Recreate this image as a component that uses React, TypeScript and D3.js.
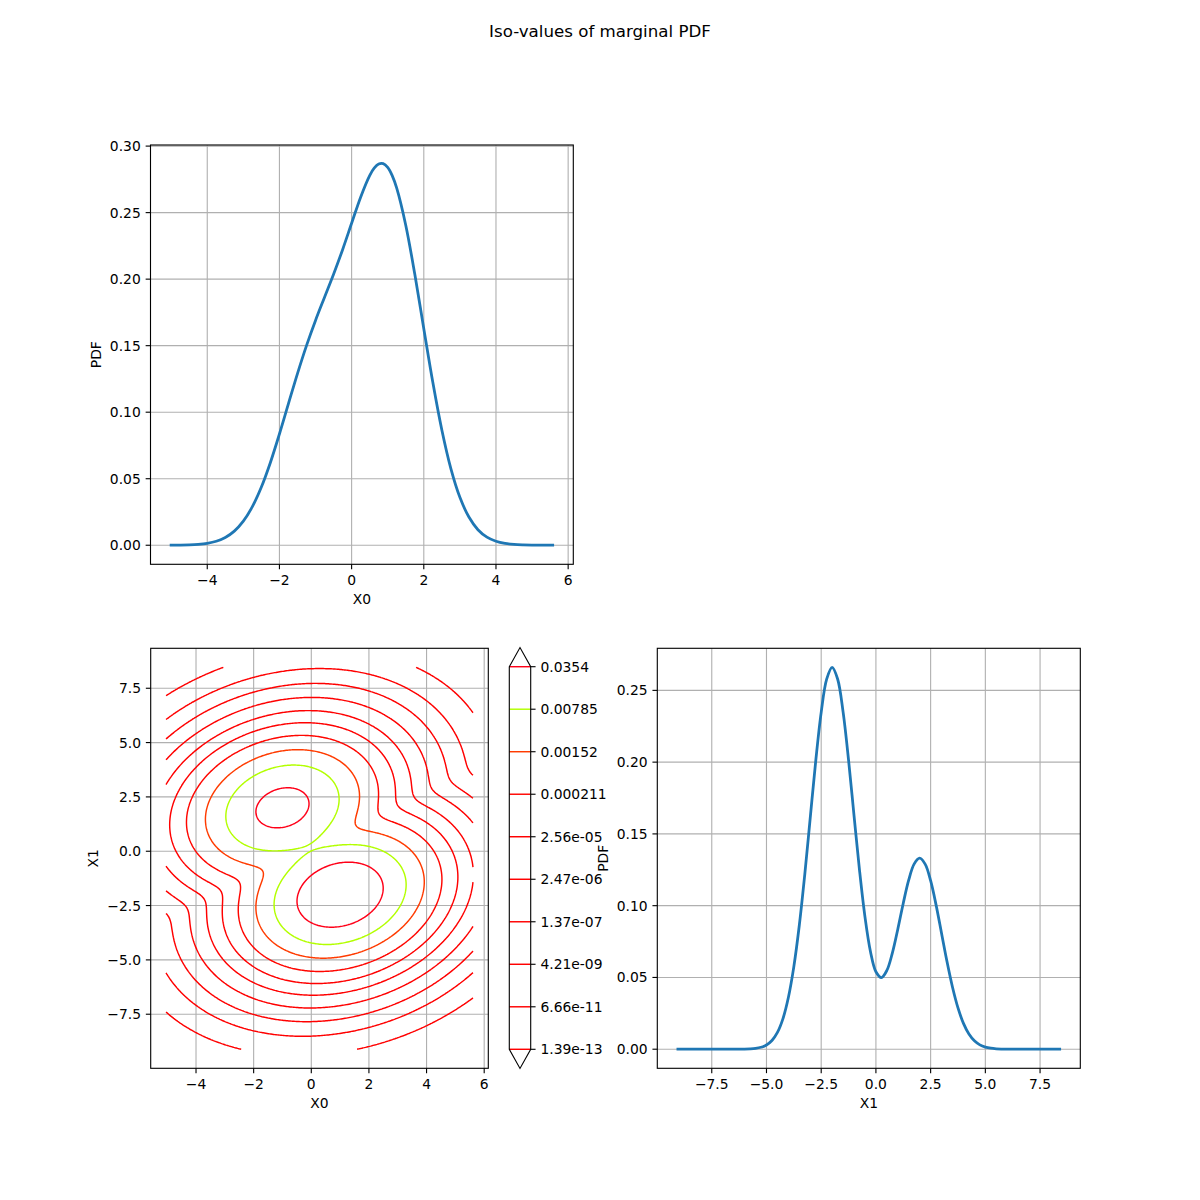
import React, { useMemo } from 'react';
import * as d3 from 'd3';

// ---------- data ----------
const TITLE = 'Iso-values of marginal PDF';
const X0_RANGE = [-5.04, 5.61];
const X1_RANGE = [-9.11, 8.46];

const X0_VALUES = [-5.04, -4.75, -4.5, -4.25, -4, -3.75, -3.5, -3.25, -3, -2.75, -2.5, -2.25, -2, -1.75, -1.5, -1.25, -1, -0.75, -0.5, -0.25, 0, 0.25, 0.5, 0.625, 0.75, 0.875, 1, 1.125, 1.25, 1.5, 1.75, 2, 2.25, 2.5, 2.75, 3, 3.25, 3.5, 3.75, 4, 4.25, 4.5, 4.75, 5, 5.25, 5.5, 5.61];
const X0_PDF = [0.00004, 0.00012, 0.00029, 0.00068, 0.00148, 0.00303, 0.00585, 0.01061, 0.01809, 0.02899, 0.04375, 0.06224, 0.08361, 0.10644, 0.12904, 0.15005, 0.16898, 0.18641, 0.2037, 0.22215, 0.24197, 0.26164, 0.27788, 0.28342, 0.28654, 0.28682, 0.28396, 0.2778, 0.26836, 0.24055, 0.20379, 0.16279, 0.12244, 0.08664, 0.05764, 0.03604, 0.02118, 0.01169, 0.00606, 0.00296, 0.00135, 0.00058, 0.00024, 0.00009, 0.00003, 0.00001, 0.00001];

const X1_VALUES = [-9.11, -8, -7, -6.5, -6, -5.75, -5.5, -5.25, -5, -4.75, -4.5, -4.25, -4, -3.75, -3.5, -3.25, -3, -2.75, -2.5, -2.25, -2, -1.75, -1.5, -1.25, -1, -0.75, -0.5, -0.25, 0, 0.25, 0.5, 0.75, 1, 1.25, 1.5, 1.75, 2, 2.25, 2.5, 2.75, 3, 3.25, 3.5, 3.75, 4, 4.25, 4.5, 4.75, 5, 5.25, 5.5, 5.75, 6, 6.5, 7, 8, 8.46];
const X1_PDF = [0, 0, 0.000001, 0.00001, 0.00009, 0.00024, 0.00058, 0.00135, 0.00296, 0.00606, 0.01169, 0.02116, 0.03599, 0.05752, 0.08635, 0.12177, 0.16131, 0.20076, 0.23471, 0.25778, 0.26601, 0.2579, 0.235, 0.20143, 0.16279, 0.1248, 0.09219, 0.0681, 0.05399, 0.04992, 0.05486, 0.06695, 0.08361, 0.10173, 0.11794, 0.12912, 0.13307, 0.12892, 0.11737, 0.10038, 0.08066, 0.06088, 0.04317, 0.02876, 0.018, 0.01058, 0.00584, 0.00303, 0.00148, 0.00068, 0.00029, 0.00012, 0.00004, 0.00001, 0, 0, 0];

// bivariate mixture (two normal components) behind the iso-lines
const MIX_WEIGHTS = [0.33333, 0.66667];
const MIX_MEAN_X0 = [-1, 1];
const MIX_MEAN_X1 = [2, -2];
const MIX_STD_X0 = [1, 1];
const MIX_STD_X1 = [1, 1];
const MIX_CORR = [0.2, 0.2];

const LEVELS = [1.39e-13, 6.66e-11, 4.21e-9, 1.37e-7, 2.47e-6, 2.56e-5, 0.000211, 0.00152, 0.00785, 0.0354];
const LEVEL_LABELS = ['1.39e-13', '6.66e-11', '4.21e-09', '1.37e-07', '2.47e-06', '2.56e-05', '0.000211', '0.00152', '0.00785', '0.0354'];

const TL_X_TICKS = [-4, -2, 0, 2, 4, 6];
const TL_Y_TICKS = [0, 0.05, 0.1, 0.15, 0.2, 0.25, 0.3];
const BL_X_TICKS = [-4, -2, 0, 2, 4, 6];
const BL_Y_TICKS = [-7.5, -5, -2.5, 0, 2.5, 5, 7.5];
const BR_X_TICKS = [-7.5, -5, -2.5, 0, 2.5, 5, 7.5];
const BR_Y_TICKS = [0, 0.05, 0.1, 0.15, 0.2, 0.25];

// ---------- style ----------
const FONT = 'DejaVu Sans, sans-serif';
const FS = 13.89;
const TICK = 4.86;
const PAD = 4.86;
const GRID = '#b0b0b0';
const BLUE = '#1f77b4';
const CONTOUR_W = 1.45;

// matplotlib "hsv" colormap segments
const HSV_STOPS = [0, 0.15873, 0.174603, 0.333333, 0.349206, 0.507937, 0.666667, 0.68254, 0.84127, 0.857143, 1];
const HSV_COLORS = [
  [1, 0, 0], [1, 0.9375, 0], [0.96875, 1, 0], [0.03125, 1, 0], [0, 1, 0.0625], [0, 1, 1],
  [0, 0.0625, 1], [0.03125, 0, 1], [0.96875, 0, 1], [1, 0, 0.9375], [1, 0, 0.09375],
].map(c => d3.rgb(c[0] * 255, c[1] * 255, c[2] * 255).formatHex());
const hsvScale = d3.scaleLinear<string>().domain(HSV_STOPS).range(HSV_COLORS).interpolate(d3.interpolateRgb);
function levelColor(v: number) {
  const lo = d3.min(LEVELS)!, hi = d3.max(LEVELS)!;
  const t = (v - lo) / (hi - lo);
  const idx = Math.min(255, Math.floor(t * 256));
  return hsvScale(idx / 255);
}

type AxProps = {
  left: number; right: number; top: number; bottom: number;
  xScale: d3.ScaleLinear<number, number>; yScale: d3.ScaleLinear<number, number>;
  xTicks: number[]; yTicks: number[]; xFmt: (v: number) => string; yFmt: (v: number) => string;
  xLabel: string; yLabel: string; yLabelX: number; children?: React.ReactNode;
};

function Axes(p: AxProps) {
  const { left, right, top, bottom, xScale, yScale } = p;
  return (
    <g>
      {p.xTicks.map(t => (
        <line key={'gx' + t} x1={xScale(t)} x2={xScale(t)} y1={top} y2={bottom} stroke={GRID} strokeWidth={1.11} />
      ))}
      {p.yTicks.map(t => (
        <line key={'gy' + t} x1={left} x2={right} y1={yScale(t)} y2={yScale(t)} stroke={GRID} strokeWidth={1.11} />
      ))}
      {p.children}
      <rect x={left} y={top} width={right - left} height={bottom - top} fill="none" stroke="#000" strokeWidth={1.11} />
      {p.xTicks.map(t => (
        <g key={'tx' + t}>
          <line x1={xScale(t)} x2={xScale(t)} y1={bottom} y2={bottom + TICK} stroke="#000" strokeWidth={1.11} />
          <text x={xScale(t)} y={bottom + TICK + PAD + 10.6} textAnchor="middle" fontFamily={FONT} fontSize={FS}>{p.xFmt(t)}</text>
        </g>
      ))}
      {p.yTicks.map(t => (
        <g key={'ty' + t}>
          <line x1={left - TICK} x2={left} y1={yScale(t)} y2={yScale(t)} stroke="#000" strokeWidth={1.11} />
          <text x={left - TICK - PAD} y={yScale(t) + 5.05} textAnchor="end" fontFamily={FONT} fontSize={FS}>{p.yFmt(t)}</text>
        </g>
      ))}
      <text x={(left + right) / 2} y={bottom + 39.8} textAnchor="middle" fontFamily={FONT} fontSize={FS}>{p.xLabel}</text>
      <text x={p.yLabelX} y={(top + bottom) / 2} textAnchor="middle" fontFamily={FONT} fontSize={FS}
        transform={`rotate(-90 ${p.yLabelX} ${(top + bottom) / 2})`}>{p.yLabel}</text>
    </g>
  );
}

function padded(r: number[]) {
  const d = r[1] - r[0];
  return [r[0] - 0.05 * d, r[1] + 0.05 * d];
}

export default function App() {
  // layout
  const TL = { left: 150.5, right: 573.3, top: 145, bottom: 564.3 };
  const BL = { left: 150.7, right: 488.3, top: 648.3, bottom: 1068.3 };
  const BR = { left: 657.3, right: 1080.3, top: 648.3, bottom: 1068.3 };
  const CB = { left: 509.3, right: 530.7, top: 666.7, bottom: 1049.3, ext: 19.1 };

  const x0Dom = padded(X0_RANGE);
  const x1Dom = padded(X1_RANGE);
  const max0 = 0.2865;
  const max1 = d3.max(X1_PDF)!;

  const tlX = d3.scaleLinear().domain(x0Dom).range([TL.left, TL.right]);
  const tlY = d3.scaleLinear().domain([-0.05 * max0, 1.05 * max0]).range([TL.bottom, TL.top]);
  const blX = d3.scaleLinear().domain(x0Dom).range([BL.left, BL.right]);
  const blY = d3.scaleLinear().domain(x1Dom).range([BL.bottom, BL.top]);
  const brX = d3.scaleLinear().domain(x1Dom).range([BR.left, BR.right]);
  const brY = d3.scaleLinear().domain([-0.05 * max1, 1.05 * max1]).range([BR.bottom, BR.top]);

  const fmtInt = d3.format('d');
  const fmt1 = d3.format('.1f');
  const fmt2 = d3.format('.2f');

  const line0 = d3.line<number>().x((_, i) => tlX(X0_VALUES[i])).y(v => tlY(v)).curve(d3.curveCatmullRom.alpha(0.5));
  const line1 = d3.line<number>().x((_, i) => brX(X1_VALUES[i])).y(v => brY(v)).curve(d3.curveCatmullRom.alpha(0.5));

  const contourPaths = useMemo(() => {
    const nx = 241, ny = 301;
    const sx = (X0_RANGE[1] - X0_RANGE[0]) / (nx - 1);
    const sy = (X1_RANGE[1] - X1_RANGE[0]) / (ny - 1);
    const values = new Array(nx * ny);
    for (let j = 0; j < ny; j++) {
      const y = X1_RANGE[0] + j * sy;
      for (let i = 0; i < nx; i++) {
        const x = X0_RANGE[0] + i * sx;
        let s = 0;
        for (let k = 0; k < MIX_WEIGHTS.length; k++) {
          const zx = (x - MIX_MEAN_X0[k]) / MIX_STD_X0[k];
          const zy = (y - MIX_MEAN_X1[k]) / MIX_STD_X1[k];
          const r = MIX_CORR[k];
          const q = (zx * zx - 2 * r * zx * zy + zy * zy) / (1 - r * r);
          s += MIX_WEIGHTS[k] / (2 * Math.PI * MIX_STD_X0[k] * MIX_STD_X1[k] * Math.sqrt(1 - r * r)) * Math.exp(-q / 2);
        }
        values[j * nx + i] = s;
      }
    }
    const gen = d3.contours().size([nx, ny]);
    const toPx = (p: number[]): [number, number] => [
      blX(X0_RANGE[0] + (p[0] - 0.5) * sx),
      blY(X1_RANGE[0] + (p[1] - 0.5) * sy),
    ];
    const onB = (p: number[]) => p[0] < 0.25 || p[0] > nx - 0.25 || p[1] < 0.25 || p[1] > ny - 0.25;
    const lineGen = d3.line();
    const out: { d: string; color: string; key: string }[] = [];
    LEVELS.forEach((lv, li) => {
      const mp = gen.contour(values, lv);
      const color = levelColor(lv);
      let n = 0;
      mp.coordinates.forEach(poly => poly.forEach(ring => {
        const pts = ring.slice(0, ring.length - 1);
        const k = pts.findIndex(onB);
        if (k < 0) {
          out.push({ d: lineGen(pts.map(toPx))! + 'Z', color, key: `${li}-${n++}` });
          return;
        }
        const rot = pts.slice(k).concat(pts.slice(0, k));
        let run: number[][] = [];
        const flush = () => {
          if (run.length > 1) out.push({ d: lineGen(run.map(toPx))!, color, key: `${li}-${n++}` });
          run = [];
        };
        rot.forEach(p => { if (onB(p)) flush(); else run.push(p); });
        flush();
      }));
    });
    return out;
  }, []);

  const cbY = d3.scalePoint<number>().domain(d3.range(LEVELS.length)).range([CB.bottom, CB.top]);
  const cbMid = (CB.left + CB.right) / 2;
  const cbOutline = [
    [CB.left, CB.top], [cbMid, CB.top - CB.ext], [CB.right, CB.top], [CB.right, CB.bottom],
    [cbMid, CB.bottom + CB.ext], [CB.left, CB.bottom],
  ].map(p => p.join(',')).join(' ');

  return (
    <svg width={1200} height={1200} style={{ position: 'absolute', left: 0, top: 0, background: '#fff' }}>
      <rect x={0} y={0} width={1200} height={1200} fill="#fff" />
      <text x={600} y={37.3} textAnchor="middle" fontFamily={FONT} fontSize={16.67}>{TITLE}</text>

      <Axes {...TL} xScale={tlX} yScale={tlY} xTicks={TL_X_TICKS} yTicks={TL_Y_TICKS} xFmt={fmtInt} yFmt={fmt2}
        xLabel="X0" yLabel="PDF" yLabelX={101.1}>
        <path d={line0(X0_PDF)!} fill="none" stroke={BLUE} strokeWidth={2.78} strokeLinejoin="round" />
      </Axes>

      <Axes {...BL} xScale={blX} yScale={blY} xTicks={BL_X_TICKS} yTicks={BL_Y_TICKS} xFmt={fmtInt} yFmt={fmt1}
        xLabel="X0" yLabel="X1" yLabelX={98.4}>
        {contourPaths.map(c => (
          <path key={c.key} d={c.d} fill="none" stroke={c.color} strokeWidth={CONTOUR_W} strokeLinejoin="round" />
        ))}
      </Axes>

      <g>
        <polygon points={cbOutline} fill="#fff" stroke="none" />
        {LEVELS.map((lv, i) => (
          <line key={'cbl' + i} x1={CB.left} x2={CB.right} y1={cbY(i)!} y2={cbY(i)!} stroke={levelColor(lv)} strokeWidth={CONTOUR_W} />
        ))}
        <polygon points={cbOutline} fill="none" stroke="#000" strokeWidth={1.11} />
        {LEVELS.map((lv, i) => (
          <g key={'cbt' + i}>
            <line x1={CB.right} x2={CB.right + TICK} y1={cbY(i)!} y2={cbY(i)!} stroke="#000" strokeWidth={1.11} />
            <text x={CB.right + TICK + PAD} y={cbY(i)! + 5.05} fontFamily={FONT} fontSize={FS}>{LEVEL_LABELS[i]}</text>
          </g>
        ))}
      </g>

      <Axes {...BR} xScale={brX} yScale={brY} xTicks={BR_X_TICKS} yTicks={BR_Y_TICKS} xFmt={fmt1} yFmt={fmt2}
        xLabel="X1" yLabel="PDF" yLabelX={607.8}>
        <path d={line1(X1_PDF)!} fill="none" stroke={BLUE} strokeWidth={2.78} strokeLinejoin="round" />
      </Axes>
    </svg>
  );
}
